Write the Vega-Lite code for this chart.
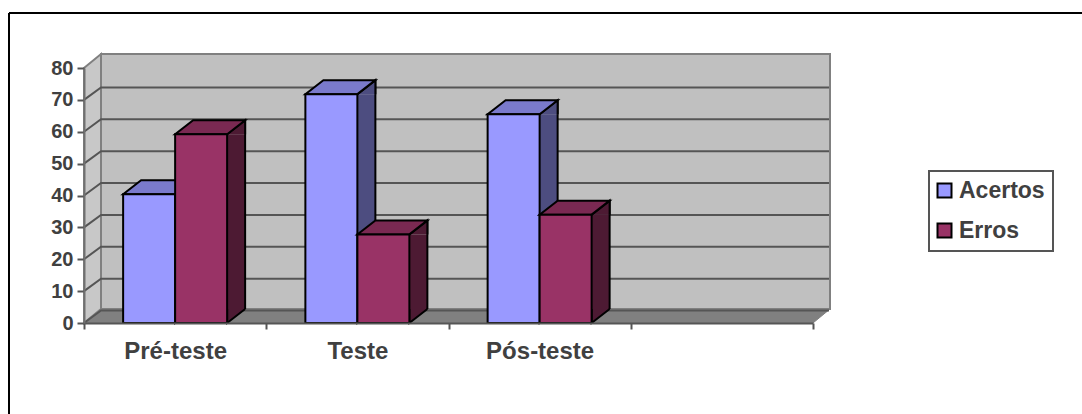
{
"$schema":"https://vega.github.io/schema/vega-lite/v6.json",
"width":1073,"height":401,
"padding":{"left":9,"top":13,"right":0,"bottom":0},
"autosize":{"type":"none"},
"background":"white",
"config":{"view":{"stroke":null},"font":"Liberation Sans","legend":{"strokeWidth":2}},
"datasets":{
"rows":[
{"category":"Pré-teste","series":"Acertos","value":40.4},
{"category":"Pré-teste","series":"Erros","value":59.2},
{"category":"Teste","series":"Acertos","value":71.8},
{"category":"Teste","series":"Erros","value":27.8},
{"category":"Pós-teste","series":"Acertos","value":65.5},
{"category":"Pós-teste","series":"Erros","value":34}],
"ticks":[{"tick":0},{"tick":10},{"tick":20},{"tick":30},{"tick":40},{"tick":50},{"tick":60},{"tick":70}],
"one":[{"part":"chart"}]
},
"layer":[
{"data":{"name":"one"},"mark":{"type":"rule","stroke":"black","strokeWidth":2},"encoding":{"y":{"datum":97.25,"type":"quantitative"}}},
{"data":{"name":"one"},"mark":{"type":"rule","stroke":"black","strokeWidth":2,"xOffset":-166.125},"encoding":{"x":{"datum":"Pré-teste","type":"nominal"}}},
{"data":{"name":"one"},"mark":{"type":"point","xOffset":-91.125,"filled":true,"opacity":1,"size":4,"fill":"#C0C0C0","stroke":"#808080","strokeWidth":2,"shape":"M17,-14L746,-14L746,-269L17,-269Z"},
"encoding":{"x":{"datum":"Pré-teste","type":"nominal"},"y":{"datum":0,"type":"quantitative"}}},
{"data":{"name":"one"},"mark":{"type":"point","xOffset":-91.125,"filled":true,"opacity":1,"size":4,"fill":"#C8C8C8","stroke":"#808080","strokeWidth":2,"shape":"M0,0L17,-14L17,-269L0,-255Z"},
"encoding":{"x":{"datum":"Pré-teste","type":"nominal"},"y":{"datum":0,"type":"quantitative"}}},
{"data":{"name":"one"},"mark":{"type":"point","xOffset":-91.125,"filled":true,"opacity":1,"size":4,"fill":"#808080","stroke":"#808080","strokeWidth":1,"shape":"M0,0L729,0L746,-14L17,-14Z"},
"encoding":{"x":{"datum":"Pré-teste","type":"nominal"},"y":{"datum":0,"type":"quantitative"}}},
{"data":{"name":"ticks"},"mark":{"type":"point","xOffset":-91.125,"filled":false,"fill":null,"opacity":1,"size":4,"stroke":"#555555","strokeWidth":2,"shape":"M0,0L17,-12.5L745,-12.5"},
"encoding":{"x":{"datum":"Pré-teste","type":"nominal"},"y":{"field":"tick","type":"quantitative"}}},

{"data":{"name":"rows"},"transform":[{"filter":"datum.series==='Acertos'"}],"mark":{"type":"rule","stroke":"#4D4D80","strokeWidth":18,"xOffset":9,"y2Offset":-14},"encoding":{"x":{"field":"category","type":"nominal"},"y":{"field":"value","type":"quantitative"},"y2":{"datum":0}}},
{"data":{"name":"rows"},"transform":[{"filter":"datum.series==='Acertos'"}],"mark":{"type":"rule","stroke":"black","strokeWidth":2,"xOffset":18,"yOffset":-14,"y2Offset":-14},"encoding":{"x":{"field":"category","type":"nominal"},"y":{"field":"value","type":"quantitative"},"y2":{"datum":0}}},
{"data":{"name":"rows"},"transform":[{"filter":"datum.series==='Acertos'"}],"mark":{"type":"point","filled":true,"opacity":1,"size":4,"fill":"#4D4D80","stroke":"black","strokeWidth":2,"shape":"M18,0L18,-14L0,0"},"encoding":{"x":{"field":"category","type":"nominal"},"y":{"field":"value","type":"quantitative"}}},
{"data":{"name":"rows"},"transform":[{"filter":"datum.series==='Acertos'"}],"mark":{"type":"point","filled":true,"opacity":1,"size":4,"fill":"#4D4D80","stroke":"black","strokeWidth":2,"shape":"M0,-14L0,0L18,-14"},"encoding":{"x":{"field":"category","type":"nominal"},"y":{"datum":0,"type":"quantitative"}}},
{"data":{"name":"rows"},"transform":[{"filter":"datum.series==='Acertos'"}],"mark":{"type":"point","filled":true,"opacity":1,"size":4,"fill":"#7A7ACC","stroke":"black","strokeWidth":2,"shape":"M-52,0L0,0L18,-14L-34,-14Z"},"encoding":{"x":{"field":"category","type":"nominal"},"y":{"field":"value","type":"quantitative"}}},
{"data":{"name":"rows"},"transform":[{"filter":"datum.series==='Acertos'"}],"mark":{"type":"bar","width":52,"xOffset":-26,"x2Offset":-26,"stroke":"black","strokeWidth":2},"encoding":{
"x":{"field":"category","type":"nominal","scale":{"type":"band","domain":["Pré-teste","Teste","Pós-teste"," "],"range":[75,804],"paddingInner":0,"paddingOuter":0},"axis":{"title":null,"labelAngle":0,"labelAlign":"center","labelBaseline":"top","tickBand":"extent","tickSize":6,"tickWidth":2,"tickColor":"#555555","domainColor":"#555555","domainWidth":2,"labelFontSize":24,"labelFontWeight":"bold","labelColor":"#404040","labelFont":"Liberation Sans","labelPadding":10,"offset":-91,"zindex":1,"grid":false}},
"y":{"field":"value","type":"quantitative","scale":{"domain":[0,80],"range":[310,55],"nice":false,"zero":false},"axis":{"title":null,"values":[0,10,20,30,40,50,60,70,80],"tickSize":7,"tickWidth":2,"tickColor":"#555555","domainColor":"#707070","domainWidth":2,"labelFontSize":20,"labelFontWeight":"bold","labelColor":"#404040","labelFont":"Liberation Sans","labelPadding":4,"offset":-75,"zindex":1,"grid":false}},
"y2":{"datum":0},"color":{"field":"series","type":"nominal","scale":{"domain":["Acertos","Erros"],"range":["#9999FF","#993366"]},"legend":{"title":null,"orient":"none","legendX":920,"legendY":158,"padding":8,"strokeColor":"#555555","fillColor":"white","symbolType":"square","symbolSize":196,"symbolStrokeColor":"black","symbolStrokeWidth":2,"symbolOffset":-4,"labelFontSize":23,"labelFontWeight":"bold","labelColor":"#404040","labelFont":"Liberation Sans","labelOffset":3,"rowPadding":16}}}},

{"data":{"name":"rows"},"transform":[{"filter":"datum.series==='Erros'"}],"mark":{"type":"rule","stroke":"#4D1A33","strokeWidth":18,"xOffset":61,"y2Offset":-14},"encoding":{"x":{"field":"category","type":"nominal"},"y":{"field":"value","type":"quantitative"},"y2":{"datum":0}}},
{"data":{"name":"rows"},"transform":[{"filter":"datum.series==='Erros'"}],"mark":{"type":"rule","stroke":"black","strokeWidth":2,"xOffset":70,"yOffset":-14,"y2Offset":-14},"encoding":{"x":{"field":"category","type":"nominal"},"y":{"field":"value","type":"quantitative"},"y2":{"datum":0}}},
{"data":{"name":"rows"},"transform":[{"filter":"datum.series==='Erros'"}],"mark":{"type":"point","filled":true,"opacity":1,"size":4,"fill":"#4D1A33","stroke":"black","strokeWidth":2,"shape":"M70,0L70,-14L52,0"},"encoding":{"x":{"field":"category","type":"nominal"},"y":{"field":"value","type":"quantitative"}}},
{"data":{"name":"rows"},"transform":[{"filter":"datum.series==='Erros'"}],"mark":{"type":"point","filled":true,"opacity":1,"size":4,"fill":"#4D1A33","stroke":"black","strokeWidth":2,"shape":"M52,-14L52,0L70,-14"},"encoding":{"x":{"field":"category","type":"nominal"},"y":{"datum":0,"type":"quantitative"}}},
{"data":{"name":"rows"},"transform":[{"filter":"datum.series==='Erros'"}],"mark":{"type":"point","filled":true,"opacity":1,"size":4,"fill":"#7A2952","stroke":"black","strokeWidth":2,"shape":"M0,0L52,0L70,-14L18,-14Z"},"encoding":{"x":{"field":"category","type":"nominal"},"y":{"field":"value","type":"quantitative"}}},
{"data":{"name":"rows"},"transform":[{"filter":"datum.series==='Erros'"}],"mark":{"type":"bar","width":52,"xOffset":26,"x2Offset":26,"stroke":"black","strokeWidth":2},"encoding":{"x":{"field":"category","type":"nominal"},"y":{"field":"value","type":"quantitative"},"y2":{"datum":0},"color":{"field":"series","type":"nominal"}}}
]
}
